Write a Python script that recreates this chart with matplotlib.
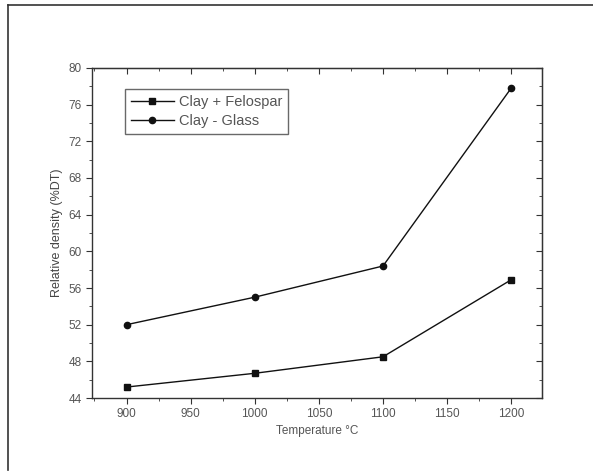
import matplotlib
matplotlib.use("Agg")
import matplotlib.pyplot as plt
from matplotlib.lines import Line2D
from matplotlib.ticker import MultipleLocator

temperatura = [900, 1000, 1100, 1200]
clay_felospar = [45.2, 46.7, 48.5, 56.9]
clay_glass = [52.0, 55.0, 58.4, 77.8]

plt.rcParams["font.family"] = ["Liberation Sans", "DejaVu Sans"]

fig = plt.figure(figsize=(5.93, 4.75), dpi=100)
ax = fig.add_axes([0.155, 0.162, 0.759, 0.695])

ax.plot(temperatura, clay_felospar, "-s", color="#111111", lw=1.0, ms=4.5,
        label="Clay + Felospar")
ax.plot(temperatura, clay_glass, "-o", color="#111111", lw=1.0, ms=4.5,
        label="Clay - Glass")

ax.set_xlim(873, 1224)
ax.set_ylim(44, 80)
ax.xaxis.set_major_locator(MultipleLocator(50))
ax.xaxis.set_minor_locator(MultipleLocator(25))
ax.yaxis.set_major_locator(MultipleLocator(4))
ax.yaxis.set_minor_locator(MultipleLocator(2))
ax.tick_params(which="both", direction="out", colors="#333333",
               labelcolor="#555555", labelsize=8.5)
ax.tick_params(which="major", length=4)
ax.tick_params(which="minor", length=2)

# inward ticks on the top and right sides
ax_top = ax.secondary_xaxis("top")
ax_top.xaxis.set_major_locator(MultipleLocator(50))
ax_top.xaxis.set_minor_locator(MultipleLocator(25))
ax_top.tick_params(which="both", direction="in", colors="#333333", labeltop=False)
ax_top.tick_params(which="major", length=4)
ax_top.tick_params(which="minor", length=2)
ax_right = ax.secondary_yaxis("right")
ax_right.yaxis.set_major_locator(MultipleLocator(4))
ax_right.yaxis.set_minor_locator(MultipleLocator(2))
ax_right.tick_params(which="both", direction="in", colors="#333333", labelright=False)
ax_right.tick_params(which="major", length=4)
ax_right.tick_params(which="minor", length=2)

for s in ax.spines.values():
    s.set_color("#333333")
    s.set_linewidth(1.0)

ax.set_xlabel("Temperature °C", fontsize=8.5, color="#555555", labelpad=3)
ax.set_ylabel("Relative density (%DT)", fontsize=9, color="#444444", labelpad=4)

leg = ax.legend(loc="upper left", bbox_to_anchor=(0.073, 0.936), fontsize=10.5,
                frameon=True, fancybox=False, edgecolor="#444444",
                handlelength=3.0, handletextpad=0.3, borderpad=0.4,
                labelspacing=0.35, borderaxespad=0)
for t in leg.get_texts():
    t.set_color("#555555")

# scanned page frame
fig.add_artist(Line2D([0.013, 1.0], [0.99, 0.99], color="#333333", lw=1.2))
fig.add_artist(Line2D([0.013, 0.013], [0.01, 0.99], color="#333333", lw=1.2))

fig.savefig("out.png", dpi=100)
